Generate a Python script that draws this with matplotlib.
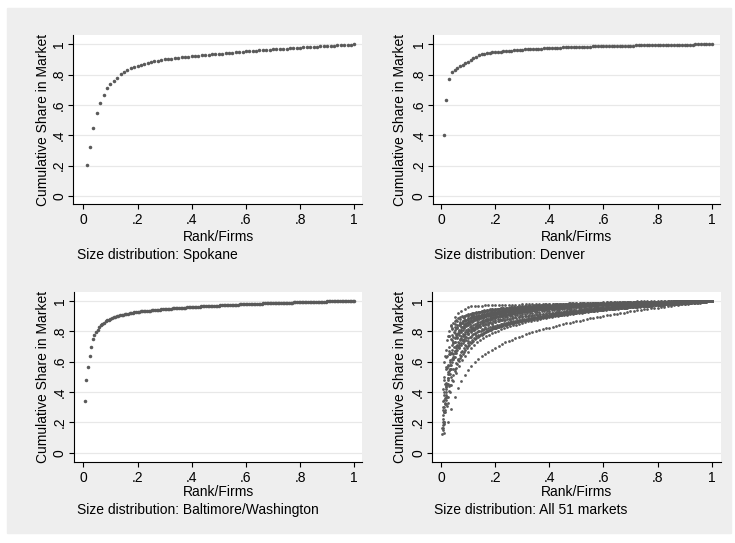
import numpy as np
import matplotlib.pyplot as plt
from matplotlib.patches import Rectangle

plt.rcParams['font.family'] = ['Liberation Sans', 'DejaVu Sans']

# cumulative market share of the k largest firms, per mille, firms ranked by size
spokane = [
    202, 326, 447, 549, 613, 666, 713, 739, 761, 781,
    801, 817, 828, 841, 850, 859, 866, 872, 878, 883,
    888, 892, 896, 900, 903, 906, 909, 912, 914, 917,
    919, 921, 923, 925, 927, 929, 931, 933, 935, 937,
    939, 941, 943, 945, 947, 949, 951, 953, 955, 957,
    958, 960, 962, 963, 965, 966, 968, 969, 971, 972,
    974, 975, 977, 978, 979, 981, 982, 983, 985, 986,
    987, 989, 990, 991, 993, 994, 995, 997, 998, 1000,
]
denver = [
    400, 630, 770, 815, 830, 845, 855, 865, 875, 885,
    897, 908, 918, 927, 934, 939, 942, 944, 946, 948,
    950, 952, 953, 955, 957, 958, 960, 961, 963, 964,
    966, 967, 968, 969, 970, 971, 972, 973, 974, 975,
    976, 977, 977, 978, 979, 980, 980, 981, 982, 983,
    983, 984, 984, 985, 985, 986, 986, 987, 987, 988,
    988, 989, 989, 990, 990, 990, 991, 991, 992, 992,
    992, 993, 993, 993, 994, 994, 994, 995, 995, 995,
    996, 996, 996, 996, 997, 997, 997, 997, 998, 998,
    998, 998, 998, 999, 999, 999, 999, 999, 1000, 1000,
]
baltimore = [
    339, 481, 563, 635, 697, 750, 775, 795, 812, 828,
    840, 850, 858, 866, 872, 878, 883, 888, 892, 896,
    899, 902, 905, 908, 910, 913, 915, 917, 919, 921,
    923, 925, 926, 928, 929, 931, 932, 933, 934, 935,
    936, 937, 938, 939, 940, 941, 942, 943, 944, 945,
    946, 947, 948, 949, 950, 951, 951, 952, 953, 954,
    955, 955, 956, 957, 958, 958, 959, 960, 961, 961,
    962, 963, 963, 964, 965, 965, 966, 966, 967, 968,
    968, 969, 969, 970, 970, 971, 971, 972, 972, 973,
    973, 974, 974, 975, 975, 976, 976, 977, 977, 978,
    978, 979, 979, 980, 980, 981, 981, 981, 982, 982,
    983, 983, 984, 984, 984, 985, 985, 986, 986, 986,
    987, 987, 988, 988, 988, 989, 989, 989, 990, 990,
    990, 991, 991, 991, 992, 992, 992, 993, 993, 993,
    994, 994, 994, 994, 995, 995, 995, 995, 996, 996,
    996, 996, 997, 997, 997, 997, 998, 998, 998, 998,
    998, 999, 999, 999, 999, 999, 1000, 1000, 1000, 1000,
]

# a selection of the remaining markets
other_a = [
    130, 205, 290, 365, 425, 472, 512, 545, 573, 597,
    618, 636, 652, 666, 680, 693, 705, 716, 727, 737,
    746, 755, 764, 772, 780, 787, 794, 801, 807, 813,
    819, 825, 831, 836, 842, 847, 852, 857, 862, 867,
    871, 876, 880, 885, 889, 893, 897, 901, 905, 909,
    913, 917, 920, 924, 928, 931, 935, 938, 941, 945,
    948, 951, 954, 957, 960, 963, 966, 969, 972, 975,
    977, 980, 983, 985, 988, 990, 993, 995, 998, 1000,
]
other_b = [
    600, 770, 845, 893, 918, 935, 948, 958, 964, 967,
    969, 970, 971, 972, 972, 973, 973, 974, 974, 975,
    975, 976, 976, 977, 977, 978, 978, 979, 979, 980,
    980, 981, 981, 982, 982, 983, 983, 984, 984, 985,
    985, 986, 987, 987, 988, 989, 989, 990, 991, 992,
    992, 993, 994, 994, 995, 996, 996, 997, 997, 998,
    998, 998, 999, 999, 999, 999, 999, 1000, 1000, 1000,
    1000, 1000, 1000, 1000, 1000, 1000, 1000, 1000, 1000, 1000,
]
other_c = [
    180, 320, 440, 530, 600, 655, 695, 728, 755, 777,
    795, 810, 822, 833, 843, 851, 859, 866, 872, 878,
    883, 887, 891, 895, 898, 901, 904, 907, 909, 911,
    913, 915, 917, 919, 921, 923, 925, 927, 928, 930,
    931, 933, 934, 935, 937, 938, 939, 940, 941, 942,
    943, 944, 945, 946, 947, 948, 949, 950, 951, 952,
    953, 954, 955, 956, 957, 957, 958, 959, 960, 961,
    962, 962, 963, 964, 965, 965, 966, 967, 968, 968,
    969, 970, 970, 971, 972, 972, 973, 974, 974, 975,
    976, 976, 977, 977, 978, 979, 979, 980, 980, 981,
    981, 982, 982, 983, 984, 984, 985, 985, 986, 986,
    987, 987, 987, 988, 988, 989, 989, 990, 990, 990,
    991, 991, 992, 992, 992, 993, 993, 993, 994, 994,
    994, 995, 995, 995, 996, 996, 996, 997, 997, 997,
    998, 998, 998, 998, 999, 999, 999, 999, 1000, 1000,
]
other_d = [
    300, 450, 570, 650, 710, 755, 785, 808, 826, 840,
    852, 862, 871, 878, 885, 891, 896, 901, 905, 909,
    913, 916, 919, 922, 925, 927, 930, 932, 934, 936,
    938, 940, 941, 943, 944, 946, 947, 948, 950, 951,
    952, 953, 954, 955, 956, 957, 958, 959, 960, 961,
    962, 963, 964, 965, 966, 966, 967, 968, 969, 970,
    970, 971, 972, 973, 973, 974, 975, 975, 976, 977,
    977, 978, 979, 979, 980, 981, 981, 982, 982, 983,
    984, 984, 985, 985, 986, 986, 987, 987, 988, 988,
    989, 989, 990, 990, 990, 991, 991, 992, 992, 992,
    993, 993, 994, 994, 994, 995, 995, 996, 996, 996,
    997, 997, 997, 998, 998, 998, 999, 999, 1000, 1000,
]
other_e = [
    120, 200, 265, 320, 368, 410, 447, 480, 510, 537,
    561, 583, 603, 621, 638, 653, 667, 680, 692, 703,
    713, 722, 731, 739, 747, 754, 761, 767, 773, 779,
    784, 789, 794, 799, 803, 807, 811, 815, 819, 822,
    825, 828, 831, 834, 837, 840, 843, 845, 848, 850,
    852, 855, 857, 859, 861, 863, 865, 867, 869, 871,
    873, 875, 876, 878, 880, 881, 883, 885, 886, 888,
    889, 891, 892, 893, 895, 896, 898, 899, 900, 902,
    903, 904, 905, 907, 908, 909, 910, 911, 913, 914,
    915, 916, 917, 918, 919, 920, 921, 922, 923, 924,
    925, 926, 927, 928, 929, 930, 931, 932, 933, 934,
    935, 936, 937, 938, 939, 940, 940, 941, 942, 943,
    944, 945, 946, 946, 947, 948, 949, 950, 951, 951,
    952, 953, 954, 955, 955, 956, 957, 958, 958, 959,
    960, 961, 961, 962, 963, 964, 964, 965, 966, 967,
    967, 968, 969, 969, 970, 971, 971, 972, 973, 974,
    974, 975, 976, 976, 977, 978, 978, 979, 980, 980,
    981, 982, 982, 983, 984, 984, 985, 986, 986, 987,
    988, 988, 989, 990, 990, 991, 992, 992, 993, 994,
    994, 995, 996, 996, 997, 998, 998, 999, 999, 1000,
]
other_f = [
    350, 520, 630, 700, 750, 790, 820, 845, 865, 880,
    892, 902, 910, 917, 923, 929, 934, 939, 943, 947,
    950, 954, 957, 960, 963, 965, 968, 970, 972, 974,
    976, 978, 979, 981, 982, 984, 985, 986, 987, 988,
    989, 990, 991, 992, 993, 993, 994, 995, 995, 996,
    996, 997, 997, 998, 998, 999, 999, 999, 1000, 1000,
]
other_g = [
    500, 680, 770, 820, 850, 870, 884, 895, 903, 910,
    916, 921, 926, 930, 934, 937, 940, 943, 945, 947,
    949, 951, 953, 955, 956, 958, 959, 961, 962, 963,
    964, 965, 966, 967, 968, 969, 970, 971, 972, 973,
    974, 975, 975, 976, 977, 978, 978, 979, 980, 980,
    981, 982, 982, 983, 983, 984, 985, 985, 986, 986,
    987, 987, 988, 988, 989, 989, 990, 990, 991, 991,
    992, 992, 993, 993, 993, 994, 994, 995, 995, 995,
    996, 996, 996, 997, 997, 997, 998, 998, 998, 998,
    999, 999, 999, 999, 999, 1000, 1000, 1000, 1000, 1000,
]
other_h = [
    190, 310, 400, 470, 525, 570, 608, 640, 667, 690,
    710, 727, 742, 755, 767, 778, 788, 797, 805, 813,
    820, 827, 833, 839, 845, 850, 855, 860, 865, 869,
    873, 877, 881, 885, 889, 892, 896, 899, 902, 905,
    908, 911, 914, 916, 919, 921, 924, 926, 929, 931,
    933, 936, 938, 940, 942, 944, 946, 948, 950, 952,
    954, 956, 958, 960, 962, 963, 965, 967, 968, 970,
    971, 973, 974, 976, 977, 979, 980, 981, 983, 984,
    985, 987, 988, 989, 991, 992, 994, 995, 997, 1000,
]
other_i = [
    420, 640, 740, 800, 835, 855, 868, 878, 886, 893,
    899, 904, 908, 912, 915, 918, 921, 924, 926, 928,
    930, 932, 934, 936, 938, 939, 941, 942, 944, 945,
    946, 947, 949, 950, 951, 952, 953, 954, 955, 956,
    957, 958, 959, 960, 960, 961, 962, 963, 964, 964,
    965, 966, 966, 967, 968, 968, 969, 970, 970, 971,
    971, 972, 973, 973, 974, 974, 975, 975, 976, 976,
    977, 977, 978, 978, 979, 979, 980, 980, 981, 981,
    981, 982, 982, 983, 983, 984, 984, 984, 985, 985,
    986, 986, 986, 987, 987, 987, 988, 988, 988, 989,
    989, 989, 990, 990, 990, 991, 991, 991, 992, 992,
    992, 993, 993, 993, 994, 994, 994, 995, 995, 995,
    995, 996, 996, 996, 997, 997, 997, 997, 998, 998,
    998, 998, 999, 999, 999, 999, 1000, 1000, 1000, 1000,
]
other_j = [
    250, 380, 480, 555, 615, 660, 695, 723, 746, 765,
    781, 795, 807, 818, 827, 836, 844, 851, 858, 864,
    870, 875, 880, 884, 888, 892, 896, 899, 902, 905,
    908, 911, 913, 916, 918, 920, 923, 925, 927, 929,
    931, 933, 934, 936, 938, 939, 941, 942, 944, 945,
    947, 948, 949, 950, 952, 953, 954, 955, 956, 958,
    959, 960, 961, 962, 963, 964, 965, 966, 967, 968,
    969, 970, 971, 972, 973, 974, 975, 976, 977, 977,
    978, 979, 980, 981, 982, 983, 983, 984, 985, 986,
    987, 987, 988, 989, 990, 991, 991, 992, 993, 994,
    994, 995, 996, 996, 997, 998, 998, 999, 1000, 1000,
]
other_k = [
    220, 400, 520, 610, 680, 730, 760, 790, 812, 830,
    843, 855, 864, 872, 879, 885, 890, 895, 899, 903,
    907, 910, 914, 917, 920, 923, 925, 928, 930, 932,
    934, 936, 938, 940, 942, 944, 945, 947, 948, 950,
    951, 952, 953, 954, 956, 957, 958, 959, 960, 961,
    962, 963, 964, 965, 966, 966, 967, 968, 969, 970,
    971, 972, 972, 973, 974, 975, 975, 976, 977, 977,
    978, 979, 979, 980, 981, 981, 982, 982, 983, 984,
    984, 985, 985, 986, 987, 987, 988, 988, 989, 989,
    990, 990, 991, 991, 992, 992, 993, 993, 993, 994,
    994, 995, 995, 995, 996, 996, 997, 997, 997, 998,
    998, 998, 998, 999, 999, 999, 999, 1000, 1000, 1000,
]
other_l = [
    300, 450, 550, 620, 670, 710, 740, 765, 785, 800,
    812, 822, 831, 839, 846, 852, 858, 863, 868, 872,
    876, 880, 884, 887, 890, 893, 896, 899, 902, 904,
    907, 909, 912, 914, 916, 918, 921, 923, 925, 927,
    929, 931, 933, 935, 937, 938, 940, 942, 944, 945,
    947, 948, 950, 951, 953, 954, 955, 957, 958, 959,
    961, 962, 963, 964, 966, 967, 968, 969, 970, 971,
    973, 974, 975, 976, 977, 978, 979, 980, 981, 982,
    983, 985, 986, 987, 988, 990, 992, 994, 997, 1000,
]
other_m = [
    150, 270, 370, 450, 520, 580, 630, 670, 702, 730,
    752, 770, 785, 797, 808, 818, 827, 835, 842, 848,
    854, 859, 864, 868, 872, 876, 880, 884, 887, 890,
    893, 896, 898, 900, 902, 904, 906, 908, 910, 912,
    914, 916, 918, 920, 922, 924, 926, 928, 930, 932,
    933, 935, 936, 938, 939, 941, 942, 944, 945, 946,
    947, 948, 949, 950, 951, 952, 953, 954, 955, 956,
    957, 958, 959, 960, 961, 962, 963, 964, 965, 966,
    967, 968, 968, 969, 970, 971, 971, 972, 973, 974,
    974, 975, 976, 977, 977, 978, 979, 979, 980, 981,
    981, 982, 982, 983, 984, 984, 985, 985, 986, 986,
    987, 987, 988, 988, 989, 989, 990, 990, 991, 991,
    992, 992, 992, 993, 993, 993, 994, 994, 994, 995,
    995, 995, 996, 996, 996, 996, 997, 997, 997, 997,
    998, 998, 998, 998, 998, 999, 999, 999, 999, 999,
    999, 999, 1000, 1000, 1000, 1000, 1000, 1000, 1000, 1000,
]
other_n = [
    450, 650, 760, 820, 860, 885, 900, 910, 918, 925,
    930, 935, 939, 943, 947, 950, 953, 956, 959, 962,
    965, 967, 969, 971, 973, 975, 977, 978, 980, 981,
    982, 983, 984, 985, 986, 987, 988, 988, 989, 990,
    990, 991, 991, 992, 992, 993, 993, 994, 994, 994,
    995, 995, 995, 996, 996, 996, 997, 997, 997, 998,
    998, 998, 998, 999, 999, 999, 999, 1000, 1000, 1000,
]
other_o = [
    160, 280, 370, 440, 500, 550, 590, 620, 645, 670,
    688, 704, 720, 733, 745, 756, 766, 775, 783, 790,
    797, 803, 809, 815, 820, 825, 829, 833, 837, 841,
    845, 849, 852, 855, 858, 861, 864, 867, 870, 873,
    876, 878, 881, 883, 885, 887, 889, 891, 893, 895,
    897, 899, 901, 903, 905, 907, 909, 911, 913, 915,
    917, 919, 921, 923, 925, 927, 929, 931, 933, 935,
    937, 939, 941, 943, 945, 947, 949, 951, 953, 955,
    957, 958, 960, 961, 962, 964, 965, 966, 968, 969,
    970, 971, 972, 974, 975, 976, 977, 978, 979, 980,
    981, 982, 983, 984, 985, 986, 987, 988, 989, 990,
    991, 991, 992, 993, 993, 994, 995, 995, 996, 996,
    997, 997, 998, 998, 998, 999, 999, 999, 1000, 1000,
]
other_p = [
    350, 550, 670, 740, 790, 820, 840, 855, 868, 878,
    886, 893, 899, 904, 909, 914, 918, 922, 926, 929,
    932, 935, 937, 939, 941, 943, 945, 947, 949, 951,
    953, 954, 956, 957, 958, 959, 961, 962, 963, 964,
    965, 966, 967, 968, 969, 970, 971, 972, 973, 974,
    975, 976, 976, 977, 978, 979, 980, 980, 981, 982,
    983, 983, 984, 985, 985, 986, 987, 987, 988, 989,
    989, 990, 990, 991, 991, 992, 992, 993, 993, 994,
    994, 995, 995, 995, 996, 996, 996, 997, 997, 997,
    998, 998, 998, 998, 999, 999, 999, 999, 1000, 1000,
]
other_q = [
    280, 460, 580, 660, 720, 760, 790, 812, 830, 845,
    857, 867, 875, 882, 888, 893, 898, 902, 906, 910,
    914, 917, 920, 923, 926, 928, 931, 933, 935, 937,
    939, 941, 943, 944, 946, 947, 949, 950, 951, 953,
    954, 955, 956, 958, 959, 960, 961, 962, 963, 964,
    965, 966, 967, 968, 969, 970, 971, 971, 972, 973,
    974, 975, 976, 976, 977, 978, 979, 979, 980, 981,
    981, 982, 983, 983, 984, 985, 985, 986, 986, 987,
    988, 988, 989, 989, 990, 990, 991, 991, 992, 992,
    993, 993, 994, 994, 994, 995, 995, 996, 996, 996,
    997, 997, 997, 998, 998, 998, 999, 999, 1000, 1000,
]
other_r = [
    160, 270, 360, 430, 490, 540, 580, 620, 648, 670,
    690, 710, 725, 740, 755, 766, 776, 785, 793, 800,
    807, 813, 819, 825, 830, 835, 840, 845, 850, 855,
    859, 863, 867, 871, 874, 877, 881, 884, 887, 890,
    893, 895, 898, 900, 903, 905, 907, 909, 911, 913,
    915, 917, 919, 921, 922, 924, 926, 927, 929, 930,
    932, 933, 935, 936, 937, 939, 940, 941, 942, 943,
    944, 945, 946, 947, 948, 949, 950, 951, 952, 953,
    954, 955, 956, 957, 958, 959, 960, 960, 961, 962,
    963, 964, 964, 965, 966, 966, 967, 968, 968, 969,
    970, 970, 971, 971, 972, 973, 973, 974, 974, 975,
    975, 976, 976, 977, 977, 978, 978, 979, 979, 980,
    980, 981, 981, 982, 982, 983, 983, 983, 984, 984,
    985, 985, 985, 986, 986, 987, 987, 987, 988, 988,
    988, 989, 989, 989, 990, 990, 990, 991, 991, 991,
    992, 992, 992, 992, 993, 993, 993, 993, 994, 994,
    994, 994, 995, 995, 995, 995, 996, 996, 996, 996,
    996, 997, 997, 997, 997, 997, 998, 998, 998, 998,
    998, 998, 999, 999, 999, 999, 999, 999, 999, 999,
    1000, 1000, 1000, 1000, 1000, 1000, 1000, 1000, 1000, 1000,
]
other_s = [
    380, 560, 660, 730, 775, 805, 830, 848, 862, 874,
    884, 892, 899, 905, 910, 914, 918, 922, 925, 928,
    931, 934, 936, 939, 941, 943, 945, 947, 949, 951,
    953, 954, 956, 957, 959, 960, 961, 963, 964, 965,
    966, 967, 968, 969, 970, 971, 972, 973, 974, 975,
    976, 977, 978, 979, 980, 981, 981, 982, 983, 984,
    984, 985, 986, 987, 987, 988, 988, 989, 990, 990,
    991, 991, 992, 992, 993, 994, 994, 995, 995, 996,
    996, 997, 997, 998, 998, 998, 999, 999, 1000, 1000,
]
other_t = [
    200, 330, 420, 490, 550, 600, 630, 655, 675, 692,
    708, 722, 735, 746, 756, 765, 773, 780, 787, 793,
    799, 804, 809, 814, 818, 822, 826, 830, 834, 838,
    841, 844, 847, 850, 853, 856, 859, 862, 865, 868,
    870, 873, 875, 878, 880, 882, 884, 886, 888, 890,
    892, 894, 896, 898, 900, 902, 904, 906, 908, 910,
    912, 914, 916, 918, 920, 921, 923, 925, 926, 928,
    930, 931, 933, 934, 936, 937, 939, 940, 942, 943,
    944, 946, 947, 948, 950, 951, 952, 954, 955, 956,
    957, 958, 960, 961, 962, 963, 964, 965, 966, 967,
    968, 969, 970, 971, 972, 973, 974, 975, 976, 977,
    978, 979, 979, 980, 981, 982, 983, 983, 984, 985,
    986, 986, 987, 988, 988, 989, 990, 990, 991, 991,
    992, 992, 993, 993, 994, 994, 995, 995, 996, 996,
    997, 997, 997, 998, 998, 999, 999, 999, 1000, 1000,
]

all_markets = [spokane, denver, baltimore, other_a, other_b, other_c,
               other_d, other_e, other_f, other_g, other_h, other_i, other_j,
               other_k, other_l, other_m, other_n, other_o, other_p, other_q,
               other_r, other_s, other_t]

captions = ['Size distribution: Spokane', 'Size distribution: Denver',
            'Size distribution: Baltimore/Washington',
            'Size distribution: All 51 markets']
ticks = [0, 0.2, 0.4, 0.6, 0.8, 1]
ticklabels = ['0', '.2', '.4', '.6', '.8', '1']

W, H = 735, 543
dot = '#5a5a5a'
fig = plt.figure(figsize=(W / 100, H / 100), dpi=100)
fig.patch.set_facecolor('white')
# gray graph region behind the four panels
fig.add_artist(Rectangle((7 / W, 10 / H), 724 / W, 525 / H,
                         transform=fig.transFigure, color='#eeeeee', zorder=-10))


def rank_share(cum):
    cum = np.asarray(cum) / 1000.0
    n = len(cum)
    return np.arange(1, n + 1) / n, cum


# panel boxes in pixels: left, top, right, bottom, x-origin px, px per unit
boxes = [
    (73.3, 35, 362, 204, 83.3, 271.0),
    (432.7, 35, 720, 204, 441, 270.7),
    (74, 291.7, 361.7, 461.7, 83.3, 271.0),
    (432.3, 291.7, 721, 461.7, 441, 270.7),
]
# text positions in pixels: ylabel x, xlabel y, caption x, caption y
texts = [
    (43.3, 237, 77, 255),
    (400, 237, 434, 255),
    (43.3, 492, 77, 510),
    (400, 492, 434, 510),
]
ys = 151.7
ytop = 1.0613

axes = []
for i, (l, t, r, b, x0, xs) in enumerate(boxes):
    ax = fig.add_axes([l / W, 1 - b / H, (r - l) / W, (b - t) / H])
    ax.set_facecolor('white')
    ax.set_xlim((l - x0) / xs, (r - x0) / xs)
    ax.set_ylim(-(b - t - ytop * ys) / ys, ytop)
    ax.set_yticks(ticks)
    ax.set_yticklabels(ticklabels, rotation=90, va='center')
    ax.set_xticks(ticks)
    ax.set_xticklabels(ticklabels)
    ax.tick_params(direction='out', length=3.6, width=0.8, labelsize=10,
                   color='black', pad=3.2)
    ax.tick_params(axis='y', pad=1.5)
    for s in ['top', 'right']:
        ax.spines[s].set_visible(False)
    for s in ['left', 'bottom']:
        ax.spines[s].set_linewidth(0.8)
    ax.grid(axis='y', color='#e8e8e8', linewidth=0.9)
    ax.set_axisbelow(True)

    ylx, xly, cx, cy = texts[i]
    fig.text(ylx / W, 1 - ((t + b) / 2) / H, 'Cumulative Share in Market',
             rotation=90, ha='center', va='center', fontsize=10)
    fig.text((x0 + xs / 2) / W, 1 - xly / H, 'Rank/Firms',
             ha='center', va='center', fontsize=10)
    fig.text(cx / W, 1 - cy / H, captions[i], ha='left', va='center', fontsize=10)
    axes.append(ax)

for ax, cum in zip(axes[:3], [spokane, denver, baltimore]):
    x, y = rank_share(cum)
    ax.scatter(x, y, s=6.5, color=dot, linewidths=0, zorder=3)

for cum in all_markets:
    x, y = rank_share(cum)
    axes[3].scatter(x, y, s=4.0, color=dot, linewidths=0, zorder=3)

fig.savefig('out.png', dpi=100, facecolor=fig.get_facecolor())
